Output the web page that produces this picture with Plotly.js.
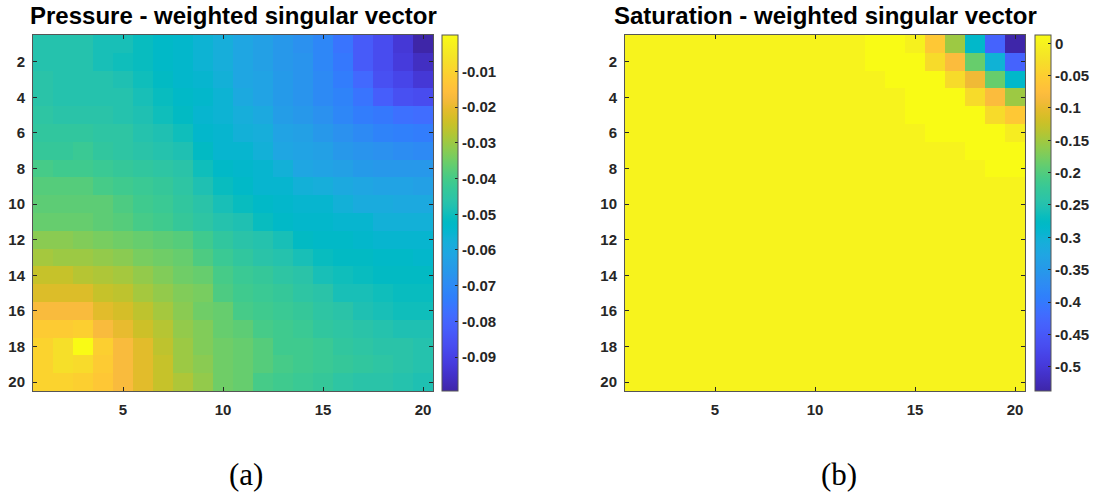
<!DOCTYPE html>
<html>
<head>
<meta charset="utf-8">
<script src="https://cdn.plot.ly/plotly-3.0.1.min.js"></script>
<style>html,body{margin:0;padding:0;background:#fff;}#chart{width:1096px;height:493px;}</style>
</head>
<body>
<div id="chart"></div>
<script>
// ---- data ----
const cols = [1,2,3,4,5,6,7,8,9,10,11,12,13,14,15,16,17,18,19,20];
const rows = [1,2,3,4,5,6,7,8,9,10,11,12,13,14,15,16,17,18,19,20];

const xTickVals = [5,10,15,20];
const yTickVals = [2,4,6,8,10,12,14,16,18,20];

const pressureTickVals = [-0.09,-0.08,-0.07,-0.06,-0.05,-0.04,-0.03,-0.02,-0.01];
const pressureTickText = ["-0.09","-0.08","-0.07","-0.06","-0.05","-0.04","-0.03","-0.02","-0.01"];
const pressureRange = [-0.0995, 0.0002];

const saturationTickVals = [-0.5,-0.45,-0.4,-0.35,-0.3,-0.25,-0.2,-0.15,-0.1,-0.05,0];
const saturationTickText = ["-0.5","-0.45","-0.4","-0.35","-0.3","-0.25","-0.2","-0.15","-0.1","-0.05","0"];
const saturationRange = [-0.5376, 0.0128];

// pressure-weighted singular vector, rows 1..20 (top to bottom), cols 1..20
const pressure = [
 [-0.047,-0.047,-0.047,-0.049,-0.049,-0.051,-0.053,-0.054,-0.056,-0.058,-0.061,-0.063,-0.066,-0.068,-0.071,-0.076,-0.083,-0.087,-0.093,-0.0995],
 [-0.047,-0.047,-0.047,-0.049,-0.050,-0.051,-0.053,-0.054,-0.056,-0.058,-0.061,-0.063,-0.066,-0.067,-0.071,-0.075,-0.083,-0.087,-0.092,-0.096],
 [-0.046,-0.047,-0.047,-0.047,-0.048,-0.050,-0.052,-0.054,-0.055,-0.057,-0.061,-0.062,-0.065,-0.067,-0.070,-0.074,-0.079,-0.086,-0.089,-0.093],
 [-0.046,-0.047,-0.047,-0.047,-0.047,-0.049,-0.051,-0.053,-0.054,-0.056,-0.060,-0.062,-0.065,-0.067,-0.070,-0.072,-0.076,-0.082,-0.086,-0.087],
 [-0.045,-0.046,-0.046,-0.046,-0.047,-0.048,-0.050,-0.052,-0.055,-0.056,-0.058,-0.060,-0.064,-0.066,-0.068,-0.071,-0.074,-0.075,-0.077,-0.078],
 [-0.044,-0.044,-0.044,-0.045,-0.045,-0.047,-0.048,-0.050,-0.054,-0.055,-0.057,-0.058,-0.062,-0.063,-0.066,-0.068,-0.070,-0.072,-0.073,-0.074],
 [-0.043,-0.043,-0.042,-0.044,-0.045,-0.046,-0.047,-0.048,-0.052,-0.055,-0.055,-0.057,-0.061,-0.062,-0.063,-0.066,-0.067,-0.068,-0.069,-0.070],
 [-0.040,-0.041,-0.041,-0.042,-0.043,-0.044,-0.045,-0.046,-0.050,-0.053,-0.054,-0.055,-0.057,-0.061,-0.062,-0.063,-0.065,-0.066,-0.066,-0.066],
 [-0.038,-0.038,-0.038,-0.040,-0.041,-0.042,-0.043,-0.045,-0.048,-0.051,-0.053,-0.055,-0.055,-0.057,-0.058,-0.060,-0.061,-0.062,-0.062,-0.063],
 [-0.037,-0.037,-0.037,-0.037,-0.039,-0.041,-0.042,-0.044,-0.046,-0.049,-0.051,-0.053,-0.054,-0.055,-0.055,-0.057,-0.059,-0.059,-0.060,-0.060],
 [-0.036,-0.036,-0.036,-0.037,-0.038,-0.040,-0.041,-0.043,-0.045,-0.047,-0.048,-0.051,-0.053,-0.054,-0.054,-0.055,-0.055,-0.057,-0.057,-0.057],
 [-0.032,-0.032,-0.033,-0.034,-0.035,-0.036,-0.037,-0.038,-0.041,-0.044,-0.046,-0.047,-0.049,-0.052,-0.053,-0.053,-0.054,-0.055,-0.055,-0.055],
 [-0.029,-0.030,-0.030,-0.031,-0.032,-0.034,-0.035,-0.036,-0.039,-0.042,-0.044,-0.046,-0.047,-0.049,-0.051,-0.052,-0.052,-0.053,-0.053,-0.054],
 [-0.025,-0.025,-0.027,-0.028,-0.029,-0.031,-0.033,-0.035,-0.036,-0.040,-0.042,-0.043,-0.045,-0.046,-0.049,-0.050,-0.051,-0.052,-0.052,-0.052],
 [-0.022,-0.022,-0.022,-0.025,-0.026,-0.029,-0.031,-0.033,-0.034,-0.039,-0.041,-0.042,-0.043,-0.045,-0.046,-0.049,-0.049,-0.050,-0.051,-0.051],
 [-0.017,-0.017,-0.017,-0.021,-0.023,-0.026,-0.029,-0.032,-0.035,-0.036,-0.040,-0.041,-0.042,-0.043,-0.045,-0.046,-0.048,-0.049,-0.050,-0.050],
 [-0.012,-0.012,-0.011,-0.017,-0.020,-0.024,-0.027,-0.031,-0.033,-0.036,-0.037,-0.040,-0.041,-0.042,-0.044,-0.045,-0.046,-0.047,-0.048,-0.048],
 [-0.010,-0.007,0.0002,-0.011,-0.017,-0.021,-0.026,-0.030,-0.033,-0.035,-0.036,-0.038,-0.041,-0.041,-0.042,-0.044,-0.045,-0.046,-0.046,-0.047],
 [-0.010,-0.007,-0.008,-0.012,-0.017,-0.021,-0.025,-0.030,-0.032,-0.035,-0.036,-0.038,-0.040,-0.041,-0.042,-0.043,-0.044,-0.045,-0.046,-0.047],
 [-0.010,-0.010,-0.011,-0.013,-0.017,-0.021,-0.025,-0.028,-0.031,-0.035,-0.036,-0.040,-0.041,-0.042,-0.043,-0.045,-0.046,-0.046,-0.047,-0.048]
];

// saturation-weighted singular vector, rows 1..20 (top to bottom), cols 1..20
const saturation = [
 [0.001,0.001,0.001,0.001,0.001,0.001,0.001,0.001,0.001,0.001,0.001,0.001,0.0125,0.0125,-0.002,-0.059,-0.153,-0.284,-0.433,-0.537],
 [0.001,0.001,0.001,0.001,0.001,0.001,0.001,0.001,0.001,0.001,0.001,0.001,0.0125,0.0125,0.0125,-0.032,-0.079,-0.186,-0.300,-0.433],
 [0.001,0.001,0.001,0.001,0.001,0.001,0.001,0.001,0.001,0.001,0.001,0.001,0.001,0.0125,0.0125,0.0125,-0.032,-0.092,-0.186,-0.284],
 [0.001,0.001,0.001,0.001,0.001,0.001,0.001,0.001,0.001,0.001,0.001,0.001,0.001,0.001,0.0125,0.0125,0.0125,-0.032,-0.079,-0.153],
 [0.001,0.001,0.001,0.001,0.001,0.001,0.001,0.001,0.001,0.001,0.001,0.001,0.001,0.001,0.0125,0.0125,0.0125,0.0125,-0.032,-0.059],
 [0.001,0.001,0.001,0.001,0.001,0.001,0.001,0.001,0.001,0.001,0.001,0.001,0.001,0.001,0.001,0.0125,0.0125,0.0125,0.0125,-0.007],
 [0.001,0.001,0.001,0.001,0.001,0.001,0.001,0.001,0.001,0.001,0.001,0.001,0.001,0.001,0.001,0.001,0.001,0.0125,0.0125,0.0125],
 [0.001,0.001,0.001,0.001,0.001,0.001,0.001,0.001,0.001,0.001,0.001,0.001,0.001,0.001,0.001,0.001,0.001,0.001,0.0125,0.0125],
 [0.001,0.001,0.001,0.001,0.001,0.001,0.001,0.001,0.001,0.001,0.001,0.001,0.001,0.001,0.001,0.001,0.001,0.001,0.001,0.001],
 [0.001,0.001,0.001,0.001,0.001,0.001,0.001,0.001,0.001,0.001,0.001,0.001,0.001,0.001,0.001,0.001,0.001,0.001,0.001,0.001],
 [0.001,0.001,0.001,0.001,0.001,0.001,0.001,0.001,0.001,0.001,0.001,0.001,0.001,0.001,0.001,0.001,0.001,0.001,0.001,0.001],
 [0.001,0.001,0.001,0.001,0.001,0.001,0.001,0.001,0.001,0.001,0.001,0.001,0.001,0.001,0.001,0.001,0.001,0.001,0.001,0.001],
 [0.001,0.001,0.001,0.001,0.001,0.001,0.001,0.001,0.001,0.001,0.001,0.001,0.001,0.001,0.001,0.001,0.001,0.001,0.001,0.001],
 [0.001,0.001,0.001,0.001,0.001,0.001,0.001,0.001,0.001,0.001,0.001,0.001,0.001,0.001,0.001,0.001,0.001,0.001,0.001,0.001],
 [0.001,0.001,0.001,0.001,0.001,0.001,0.001,0.001,0.001,0.001,0.001,0.001,0.001,0.001,0.001,0.001,0.001,0.001,0.001,0.001],
 [0.001,0.001,0.001,0.001,0.001,0.001,0.001,0.001,0.001,0.001,0.001,0.001,0.001,0.001,0.001,0.001,0.001,0.001,0.001,0.001],
 [0.001,0.001,0.001,0.001,0.001,0.001,0.001,0.001,0.001,0.001,0.001,0.001,0.001,0.001,0.001,0.001,0.001,0.001,0.001,0.001],
 [0.001,0.001,0.001,0.001,0.001,0.001,0.001,0.001,0.001,0.001,0.001,0.001,0.001,0.001,0.001,0.001,0.001,0.001,0.001,0.001],
 [0.001,0.001,0.001,0.001,0.001,0.001,0.001,0.001,0.001,0.001,0.001,0.001,0.001,0.001,0.001,0.001,0.001,0.001,0.001,0.001],
 [0.001,0.001,0.001,0.001,0.001,0.001,0.001,0.001,0.001,0.001,0.001,0.001,0.001,0.001,0.001,0.001,0.001,0.001,0.001,0.001]
];

const titles = ["Pressure - weighted singular vector", "Saturation - weighted singular vector"];
const captions = ["(a)", "(b)"];

// ---- style ----
const parulaRGB = [
[0.2422,0.1504,0.6603],[0.2504,0.1650,0.7076],[0.2578,0.1818,0.7511],[0.2647,0.1978,0.7952],
[0.2706,0.2147,0.8364],[0.2751,0.2342,0.8710],[0.2783,0.2559,0.8991],[0.2803,0.2782,0.9221],
[0.2813,0.3006,0.9414],[0.2810,0.3228,0.9579],[0.2795,0.3447,0.9717],[0.2760,0.3667,0.9829],
[0.2699,0.3892,0.9906],[0.2602,0.4123,0.9952],[0.2440,0.4358,0.9988],[0.2206,0.4603,0.9973],
[0.1963,0.4847,0.9892],[0.1834,0.5074,0.9798],[0.1786,0.5289,0.9682],[0.1764,0.5499,0.9520],
[0.1687,0.5703,0.9359],[0.1540,0.5902,0.9218],[0.1460,0.6091,0.9079],[0.1380,0.6276,0.8973],
[0.1248,0.6459,0.8883],[0.1113,0.6635,0.8763],[0.0952,0.6798,0.8598],[0.0689,0.6948,0.8394],
[0.0297,0.7082,0.8163],[0.0036,0.7203,0.7917],[0.0067,0.7312,0.7660],[0.0433,0.7411,0.7394],
[0.0964,0.7500,0.7120],[0.1408,0.7584,0.6842],[0.1717,0.7670,0.6554],[0.1938,0.7758,0.6251],
[0.2161,0.7843,0.5923],[0.2470,0.7918,0.5567],[0.2906,0.7973,0.5188],[0.3406,0.8008,0.4789],
[0.3909,0.8029,0.4354],[0.4456,0.8024,0.3909],[0.5044,0.7993,0.3480],[0.5616,0.7942,0.3045],
[0.6174,0.7876,0.2612],[0.6720,0.7793,0.2227],[0.7242,0.7698,0.1910],[0.7738,0.7598,0.1646],
[0.8203,0.7498,0.1535],[0.8634,0.7406,0.1596],[0.9035,0.7330,0.1774],[0.9393,0.7288,0.2100],
[0.9728,0.7298,0.2394],[0.9956,0.7434,0.2371],[0.9970,0.7659,0.2199],[0.9952,0.7893,0.2028],
[0.9892,0.8136,0.1885],[0.9786,0.8386,0.1766],[0.9676,0.8639,0.1643],[0.9610,0.8890,0.1537],
[0.9597,0.9135,0.1423],[0.9628,0.9373,0.1265],[0.9691,0.9606,0.1064],[0.9769,0.9839,0.0805]
];
const parula = parulaRGB.map((c, i) => [i / (parulaRGB.length - 1),
  'rgb(' + Math.round(c[0]*255) + ',' + Math.round(c[1]*255) + ',' + Math.round(c[2]*255) + ')']);

const W = 1096, H = 493;
const px = v => v / W, py = v => 1 - v / H;
const plotTop = 35, plotBottom = 391;
const leftPlot = [33, 433], rightPlot = [625, 1025];
const cbLeft = [442, 1035];

const tickFont = {family: 'Liberation Sans, Arial, sans-serif', size: 15, color: '#262626', weight: 'bold'};
const lineCol = '#555555';

function colorbar(x, vals, text) {
  return {
    x: px(x), xanchor: 'left', xref: 'paper',
    y: py(plotTop), yanchor: 'top', yref: 'paper',
    thickness: 16, thicknessmode: 'pixels',
    len: plotBottom - plotTop, lenmode: 'pixels',
    xpad: 0, ypad: 0,
    outlinewidth: 1, outlinecolor: lineCol,
    ticks: 'inside', ticklen: 3, tickcolor: '#262626', tickwidth: 1,
    tickvals: vals, ticktext: text, tickmode: 'array',
    tickfont: tickFont, ticklabelpad: 4
  };
}

const traces = [
  {type: 'heatmap', x: cols, y: rows, z: pressure, colorscale: parula,
   zmin: pressureRange[0], zmax: pressureRange[1], xaxis: 'x', yaxis: 'y',
   hoverinfo: 'skip', colorbar: colorbar(cbLeft[0], pressureTickVals, pressureTickText)},
  {type: 'heatmap', x: cols, y: rows, z: saturation, colorscale: parula,
   zmin: saturationRange[0], zmax: saturationRange[1], xaxis: 'x2', yaxis: 'y2',
   hoverinfo: 'skip', colorbar: colorbar(cbLeft[1], saturationTickVals, saturationTickText)}
];

function xAxis(dom, anchor) {
  return {domain: [px(dom[0]), px(dom[1])], anchor: anchor, range: [0.5, 20.5],
    tickmode: 'array', tickvals: xTickVals, ticks: 'inside', ticklen: 4, tickcolor: '#262626',
    showline: true, linecolor: lineCol, linewidth: 1, mirror: 'ticks',
    showgrid: false, zeroline: false, tickfont: tickFont, ticklabelstandoff: 5, fixedrange: true};
}
function yAxis(anchor) {
  return {domain: [py(plotBottom), py(plotTop)], anchor: anchor, range: [20.5, 0.5],
    tickmode: 'array', tickvals: yTickVals, ticks: 'inside', ticklen: 4, tickcolor: '#262626',
    showline: true, linecolor: lineCol, linewidth: 1, mirror: 'ticks',
    showgrid: false, zeroline: false, tickfont: tickFont, ticklabelstandoff: 4, fixedrange: true};
}

const titleFont = {family: 'Liberation Sans, Arial, sans-serif', size: 24, color: '#000000', weight: 'bold'};
const capFont = {family: 'Liberation Serif, Times New Roman, serif', size: 31, color: '#000000'};

const layout = {
  width: W, height: H,
  margin: {l: 0, r: 0, t: 0, b: 0},
  paper_bgcolor: '#ffffff', plot_bgcolor: '#ffffff',
  showlegend: false,
  xaxis: xAxis(leftPlot, 'y'),
  yaxis: yAxis('x'),
  xaxis2: xAxis(rightPlot, 'y2'),
  yaxis2: yAxis('x2'),
  annotations: [
    {text: titles[0], xref: 'paper', yref: 'paper', x: px((leftPlot[0]+leftPlot[1])/2), y: py(15),
     xanchor: 'center', yanchor: 'middle', showarrow: false, font: titleFont},
    {text: titles[1], xref: 'paper', yref: 'paper', x: px((rightPlot[0]+rightPlot[1])/2), y: py(15),
     xanchor: 'center', yanchor: 'middle', showarrow: false, font: titleFont},
    {text: captions[0], xref: 'paper', yref: 'paper', x: px(246), y: py(474),
     xanchor: 'center', yanchor: 'middle', showarrow: false, font: capFont},
    {text: captions[1], xref: 'paper', yref: 'paper', x: px(839), y: py(474),
     xanchor: 'center', yanchor: 'middle', showarrow: false, font: capFont}
  ]
};

Plotly.newPlot('chart', traces, layout, {displayModeBar: false, staticPlot: true});
</script>
</body>
</html>
